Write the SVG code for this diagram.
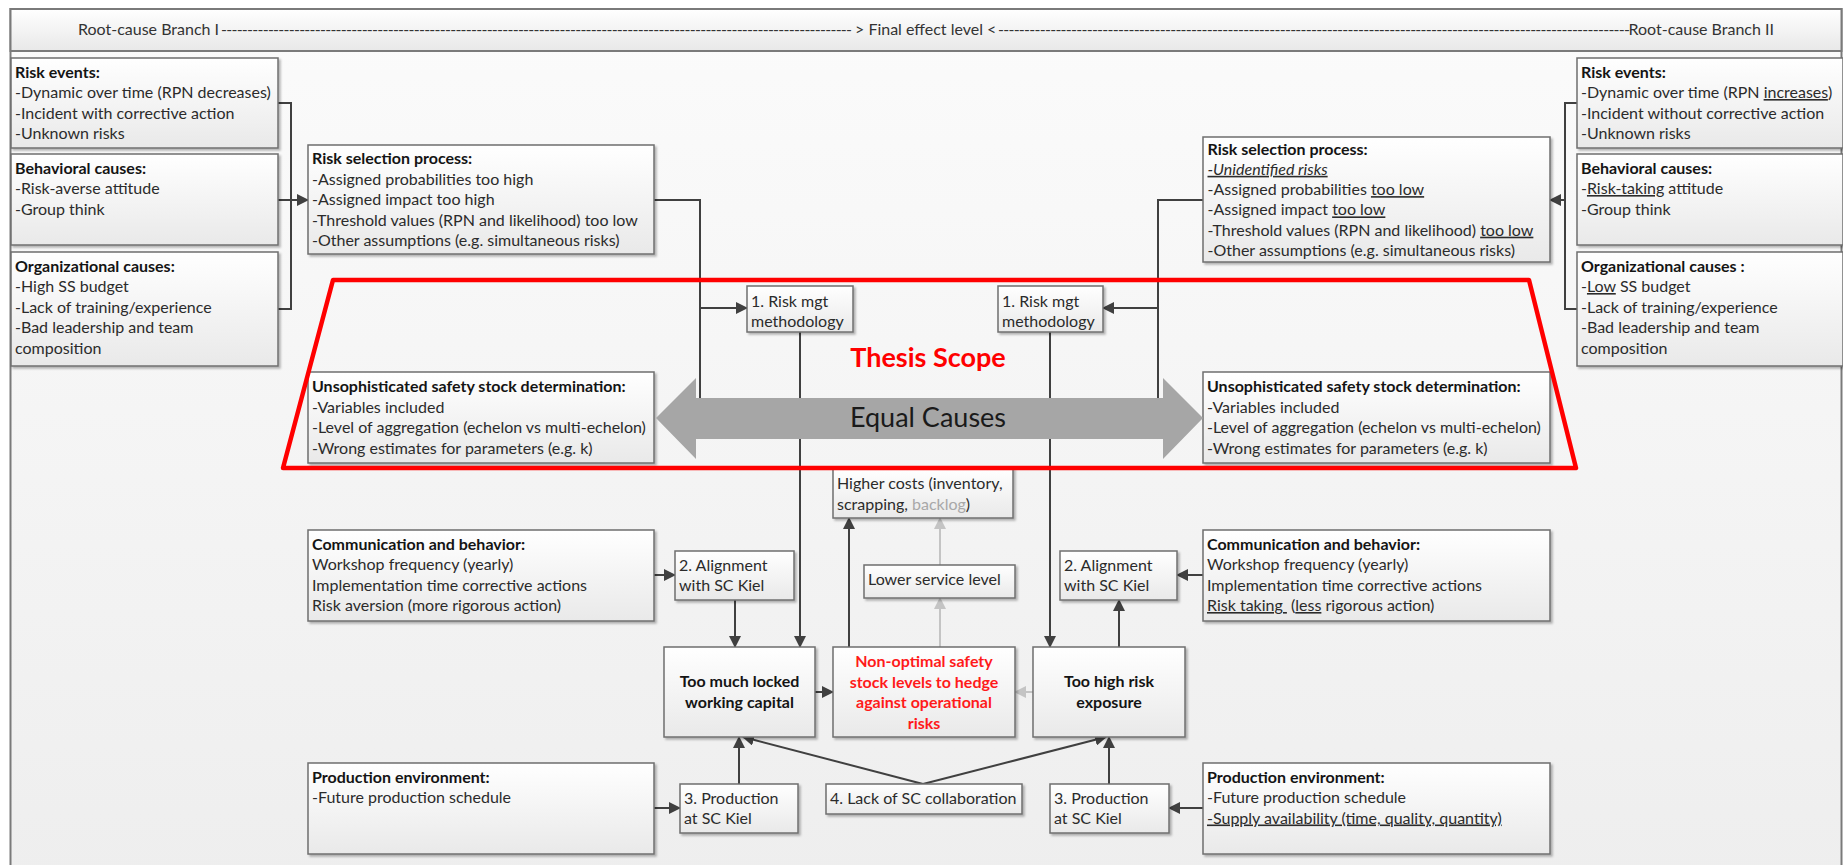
<svg xmlns="http://www.w3.org/2000/svg" width="1843" height="865" viewBox="0 0 1843 865">
  <defs>
    <linearGradient id="gBox" x1="0" y1="0" x2="0" y2="1">
      <stop offset="0" stop-color="#ffffff"/>
      <stop offset="1" stop-color="#e9e9e9"/>
    </linearGradient>
    <linearGradient id="gBg" x1="0" y1="0" x2="0" y2="1">
      <stop offset="0" stop-color="#fbfbfb"/>
      <stop offset="1" stop-color="#eeeeee"/>
    </linearGradient>
    <linearGradient id="gHead" x1="0" y1="0" x2="0" y2="1">
      <stop offset="0" stop-color="#ffffff"/>
      <stop offset="1" stop-color="#e8e8e8"/>
    </linearGradient>
    <filter id="sh" x="-5%" y="-10%" width="115%" height="130%">
      <feDropShadow dx="2" dy="2" stdDeviation="1.2" flood-color="#000" flood-opacity="0.28"/>
    </filter>
    <marker id="ah" viewBox="0 0 12 12" refX="11" refY="6" markerWidth="12" markerHeight="12" markerUnits="userSpaceOnUse" orient="auto">
      <path d="M0,0 L12,6 L0,12 z" fill="#404040"/>
    </marker>
    <marker id="ahg" viewBox="0 0 12 12" refX="11" refY="6" markerWidth="12" markerHeight="12" markerUnits="userSpaceOnUse" orient="auto">
      <path d="M0,0 L12,6 L0,12 z" fill="#c4c4c4"/>
    </marker>
  </defs>
  <style>
    .box { fill: url(#gBox); stroke: #6f6f6f; stroke-width: 1.5; filter: url(#sh); }
    .t { font-family: Lato, "Liberation Sans", sans-serif; font-size: 16px; fill: #2b2b2b; }
    .b { font-weight: bold; fill: #141414; }
    .u { text-decoration: underline; }
    .i { font-style: italic; }
    .mid { text-anchor: middle; }
    .big { font-family: Lato, "Liberation Sans", sans-serif; font-size: 16px; font-weight: bold; fill: #141414; text-anchor: middle; }
    .hd { font-family: Lato, "Liberation Sans", sans-serif; font-size: 16px; fill: #333333; }
    .c { stroke: #404040; stroke-width: 2; fill: none; }
    .cg { stroke: #c4c4c4; stroke-width: 2; fill: none; }
  </style>

  <!-- frame and header band -->
  <g id="frame">
    <rect x="10.5" y="9" width="1831" height="870" fill="url(#gBg)" stroke="#7a7a7a" stroke-width="2"/>
    <rect x="10.5" y="9" width="1831" height="42" fill="url(#gHead)" stroke="#7a7a7a" stroke-width="2"/>
  </g>
  <g id="header">
    <text class="hd" x="78" y="35">Root-cause Branch I</text>
    <text class="hd" x="221" y="35" textLength="631" lengthAdjust="spacing">-------------------------------------------------------------------------------------------------------------------------</text>
    <text class="hd" x="855" y="35">&gt; Final effect level &lt;</text>
    <text class="hd" x="998" y="35" textLength="632" lengthAdjust="spacing">-------------------------------------------------------------------------------------------------------------------------</text>
    <text class="hd" x="1774" y="35" text-anchor="end">Root-cause Branch II</text>
  </g>

  <!-- connectors -->
  <g id="connectors">
    <!-- branch I: root causes into risk selection -->
    <path class="c" d="M278,103 H291 V309 H278"/>
    <path class="c" d="M278,200 H308" marker-end="url(#ah)"/>
    <path class="c" d="M654,200 H700 V418"/>
    <path class="c" d="M700,308 H747" marker-end="url(#ah)"/>
    <!-- branch II: root causes into risk selection -->
    <path class="c" d="M1577,103 H1565 V309 H1577"/>
    <path class="c" d="M1565,200 H1550" marker-end="url(#ah)"/>
    <path class="c" d="M1203,200 H1158 V418"/>
    <path class="c" d="M1158,308 H1103" marker-end="url(#ah)"/>
    <!-- methodology down to effects -->
    <path class="c" d="M800,332 V647" marker-end="url(#ah)"/>
    <path class="c" d="M1050,332 V647" marker-end="url(#ah)"/>
    <!-- alignment -->
    <path class="c" d="M654,575 H675" marker-end="url(#ah)"/>
    <path class="c" d="M735,600 V647" marker-end="url(#ah)"/>
    <path class="c" d="M1203,575 H1177" marker-end="url(#ah)"/>
    <path class="c" d="M1119,647 V600" marker-end="url(#ah)"/>
    <!-- into the final effect -->
    <path class="c" d="M815,692 H833" marker-end="url(#ah)"/>
    <path class="cg" d="M1033,692 H1015" marker-end="url(#ahg)"/>
    <path class="c" d="M849,647 V518" marker-end="url(#ah)"/>
    <path class="cg" d="M940,647 V598" marker-end="url(#ahg)"/>
    <path class="cg" d="M940,565 V518" marker-end="url(#ahg)"/>
    <!-- production and collaboration -->
    <path class="c" d="M654,808 H680" marker-end="url(#ah)"/>
    <path class="c" d="M739,784 V737" marker-end="url(#ah)"/>
    <path class="c" d="M923,784 L743,737" marker-end="url(#ah)"/>
    <path class="c" d="M923,784 L1106,737" marker-end="url(#ah)"/>
    <path class="c" d="M1203,808 H1169" marker-end="url(#ah)"/>
    <path class="c" d="M1109,784 V737" marker-end="url(#ah)"/>
  </g>

  <!-- branch I root causes -->
  <g id="risk-events-1">
    <rect class="box" x="11" y="58" width="267" height="90"/>
    <text class="t" x="15" y="77.5"><tspan class="b">Risk events:</tspan><tspan x="15" dy="20.5">-Dynamic over time (RPN decreases)</tspan><tspan x="15" dy="20.5">-Incident with corrective action</tspan><tspan x="15" dy="20.5">-Unknown risks</tspan></text>
  </g>
  <g id="behavioral-1">
    <rect class="box" x="11" y="154" width="267" height="91"/>
    <text class="t" x="15" y="173.5"><tspan class="b">Behavioral causes:</tspan><tspan x="15" dy="20.5">-Risk-averse attitude</tspan><tspan x="15" dy="20.5">-Group think</tspan></text>
  </g>
  <g id="organizational-1">
    <rect class="box" x="11" y="252" width="267" height="114"/>
    <text class="t" x="15" y="271.5"><tspan class="b">Organizational causes:</tspan><tspan x="15" dy="20.5">-High SS budget</tspan><tspan x="15" dy="20.5">-Lack of training/experience</tspan><tspan x="15" dy="20.5">-Bad leadership and team</tspan><tspan x="15" dy="20.5">composition</tspan></text>
  </g>
  <g id="risk-selection-1">
    <rect class="box" x="308" y="145" width="346" height="109"/>
    <text class="t" x="312" y="164"><tspan class="b">Risk selection process:</tspan><tspan x="312" dy="20.5">-Assigned probabilities too high</tspan><tspan x="312" dy="20.5">-Assigned impact too high</tspan><tspan x="312" dy="20.5">-Threshold values (RPN and likelihood) too low</tspan><tspan x="312" dy="20.5">-Other assumptions (e.g. simultaneous risks)</tspan></text>
  </g>
  <g id="ss-determination-1">
    <rect class="box" x="308" y="372" width="346" height="91"/>
    <text class="t" x="312" y="392"><tspan class="b">Unsophisticated safety stock determination:</tspan><tspan x="312" dy="20.5">-Variables included</tspan><tspan x="312" dy="20.5">-Level of aggregation (echelon vs multi-echelon)</tspan><tspan x="312" dy="20.5">-Wrong estimates for parameters (e.g. k)</tspan></text>
  </g>
  <g id="communication-1">
    <rect class="box" x="308" y="530" width="346" height="91"/>
    <text class="t" x="312" y="549.5"><tspan class="b">Communication and behavior:</tspan><tspan x="312" dy="20.5">Workshop frequency (yearly)</tspan><tspan x="312" dy="20.5">Implementation time corrective actions</tspan><tspan x="312" dy="20.5">Risk aversion (more rigorous action)</tspan></text>
  </g>
  <g id="production-env-1">
    <rect class="box" x="308" y="763" width="346" height="91"/>
    <text class="t" x="312" y="782.5"><tspan class="b">Production environment:</tspan><tspan x="312" dy="20.5">-Future production schedule</tspan></text>
  </g>

  <!-- branch II root causes -->
  <g id="risk-events-2">
    <rect class="box" x="1577" y="58" width="266" height="90"/>
    <text class="t" x="1581" y="77.5"><tspan class="b">Risk events:</tspan><tspan x="1581" dy="20.5">-Dynamic over time (RPN <tspan class="u">increases</tspan>)</tspan><tspan x="1581" dy="20.5">-Incident without corrective action</tspan><tspan x="1581" dy="20.5">-Unknown risks</tspan></text>
  </g>
  <g id="behavioral-2">
    <rect class="box" x="1577" y="154" width="266" height="91"/>
    <text class="t" x="1581" y="173.5"><tspan class="b">Behavioral causes:</tspan><tspan x="1581" dy="20.5">-<tspan class="u">Risk-taking</tspan> attitude</tspan><tspan x="1581" dy="20.5">-Group think</tspan></text>
  </g>
  <g id="organizational-2">
    <rect class="box" x="1577" y="252" width="266" height="114"/>
    <text class="t" x="1581" y="271.5"><tspan class="b">Organizational causes :</tspan><tspan x="1581" dy="20.5">-<tspan class="u">Low</tspan> SS budget</tspan><tspan x="1581" dy="20.5">-Lack of training/experience</tspan><tspan x="1581" dy="20.5">-Bad leadership and team</tspan><tspan x="1581" dy="20.5">composition</tspan></text>
  </g>
  <g id="risk-selection-2">
    <rect class="box" x="1203" y="137" width="347" height="125"/>
    <text class="t" x="1207.5" y="154.5"><tspan class="b">Risk selection process:</tspan><tspan x="1207.5" dy="20.3" class="i u">-Unidentified risks</tspan><tspan x="1207.5" dy="20.3">-Assigned probabilities <tspan class="u">too low</tspan></tspan><tspan x="1207.5" dy="20.3">-Assigned impact <tspan class="u">too low</tspan></tspan><tspan x="1207.5" dy="20.3">-Threshold values (RPN and likelihood) <tspan class="u">too low</tspan></tspan><tspan x="1207.5" dy="20.3">-Other assumptions (e.g. simultaneous risks)</tspan></text>
  </g>
  <g id="ss-determination-2">
    <rect class="box" x="1203" y="372" width="347" height="91"/>
    <text class="t" x="1207" y="392"><tspan class="b">Unsophisticated safety stock determination:</tspan><tspan x="1207" dy="20.5">-Variables included</tspan><tspan x="1207" dy="20.5">-Level of aggregation (echelon vs multi-echelon)</tspan><tspan x="1207" dy="20.5">-Wrong estimates for parameters (e.g. k)</tspan></text>
  </g>
  <g id="communication-2">
    <rect class="box" x="1203" y="530" width="347" height="91"/>
    <text class="t" x="1207" y="549.5" xml:space="preserve"><tspan class="b">Communication and behavior:</tspan><tspan x="1207" dy="20.5">Workshop frequency (yearly)</tspan><tspan x="1207" dy="20.5">Implementation time corrective actions</tspan><tspan x="1207" dy="20.5"><tspan class="u">Risk taking </tspan> (<tspan class="u">less</tspan> rigorous action)</tspan></text>
  </g>
  <g id="production-env-2">
    <rect class="box" x="1203" y="763" width="347" height="91"/>
    <text class="t" x="1207" y="782.5"><tspan class="b">Production environment:</tspan><tspan x="1207" dy="20.5">-Future production schedule</tspan><tspan x="1207" dy="20.5" class="u">-Supply availability (time, quality, quantity)</tspan></text>
  </g>

  <!-- numbered factors -->
  <g id="methodology-1">
    <rect class="box" x="747" y="286" width="106" height="46"/>
    <text class="t" x="751" y="306.5"><tspan>1. Risk mgt</tspan><tspan x="751" dy="20">methodology</tspan></text>
  </g>
  <g id="methodology-2">
    <rect class="box" x="998" y="286" width="105" height="46"/>
    <text class="t" x="1002" y="306.5"><tspan>1. Risk mgt</tspan><tspan x="1002" dy="20">methodology</tspan></text>
  </g>
  <g id="alignment-1">
    <rect class="box" x="675" y="551" width="119" height="49"/>
    <text class="t" x="679" y="570.5"><tspan>2. Alignment</tspan><tspan x="679" dy="20">with SC Kiel</tspan></text>
  </g>
  <g id="alignment-2">
    <rect class="box" x="1060" y="551" width="117" height="49"/>
    <text class="t" x="1064" y="570.5"><tspan>2. Alignment</tspan><tspan x="1064" dy="20">with SC Kiel</tspan></text>
  </g>
  <g id="production-1">
    <rect class="box" x="680" y="784" width="118" height="49"/>
    <text class="t" x="684" y="803.5"><tspan>3. Production</tspan><tspan x="684" dy="20">at SC Kiel</tspan></text>
  </g>
  <g id="production-2">
    <rect class="box" x="1050" y="784" width="119" height="49"/>
    <text class="t" x="1054" y="803.5"><tspan>3. Production</tspan><tspan x="1054" dy="20">at SC Kiel</tspan></text>
  </g>
  <g id="collaboration">
    <rect class="box" x="826" y="784" width="196" height="30"/>
    <text class="t" x="830" y="803.5">4. Lack of SC collaboration</text>
  </g>

  <!-- effects -->
  <g id="higher-costs">
    <rect class="box" x="833" y="468" width="180" height="50"/>
    <text class="t" x="837" y="489"><tspan>Higher costs (inventory,</tspan><tspan x="837" dy="20.5">scrapping, <tspan fill="#a8a8a8">backlog</tspan>)</tspan></text>
  </g>
  <g id="service-level">
    <rect class="box" x="864" y="565" width="151" height="33"/>
    <text class="t" x="868" y="585">Lower service level</text>
  </g>
  <g id="locked-capital">
    <rect class="box" x="664" y="647" width="151" height="90"/>
    <text class="big" x="739.5" y="687"><tspan>Too much locked</tspan><tspan x="739.5" dy="21">working capital</tspan></text>
  </g>
  <g id="final-effect">
    <rect class="box" x="833" y="647" width="182" height="90"/>
    <text class="big" x="924" y="667" fill="#ff0000" style="fill:#ff1a1a"><tspan>Non-optimal safety</tspan><tspan x="924" dy="20.5">stock levels to hedge</tspan><tspan x="924" dy="20.5">against operational</tspan><tspan x="924" dy="20.5">risks</tspan></text>
  </g>
  <g id="risk-exposure">
    <rect class="box" x="1033" y="647" width="152" height="90"/>
    <text class="big" x="1109" y="687"><tspan>Too high risk</tspan><tspan x="1109" dy="21">exposure</tspan></text>
  </g>

  <!-- equal causes double arrow -->
  <g id="equal-causes">
    <polygon points="656,418 696,378 696,398 1163,398 1163,378 1203,418 1163,459 1163,439 696,439 696,459" fill="#a6a6a6"/>
    <text x="928" y="427" text-anchor="middle" font-family="Lato, 'Liberation Sans', sans-serif" font-size="27" fill="#1a1a1a">Equal Causes</text>
  </g>

  <!-- scope outline -->
  <g id="thesis-scope">
    <polygon points="333,280 1529,280 1576,468 283,468" fill="none" stroke="#ff0000" stroke-width="4.5" stroke-linejoin="round"/>
    <text x="928" y="367" text-anchor="middle" font-family="Lato, 'Liberation Sans', sans-serif" font-size="27" font-weight="bold" fill="#ff0000">Thesis Scope</text>
  </g>
</svg>
